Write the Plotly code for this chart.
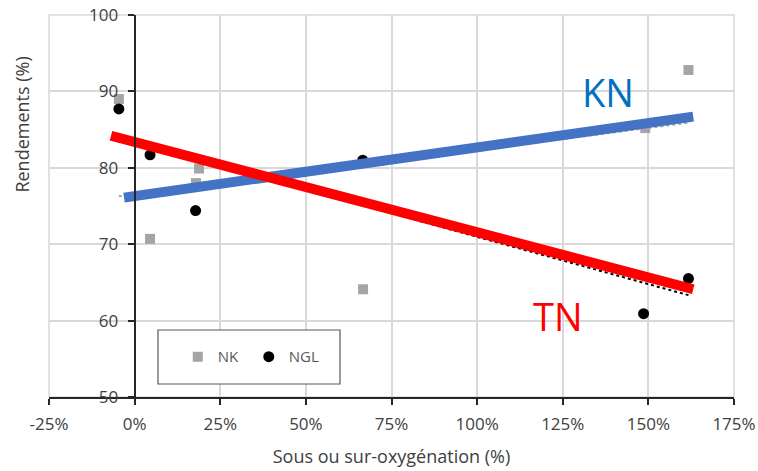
import numpy as np
import plotly.graph_objects as go

# ---- data ----
nk_x = [-4.6, 4.5, 17.9, 18.8, 66.7, 149.1, 161.7]
nk_y = [89.0, 70.7, 78.0, 79.9, 64.1, 85.2, 92.8]

ngl_x = [-4.6, 4.5, 17.8, 66.6, 148.6, 161.7]
ngl_y = [87.7, 81.7, 74.4, 81.0, 60.9, 65.5]

# hand-drawn highlight lines (endpoints, data units)
kn_line_x = [-3.1, 163.1]
kn_line_y = [76.1, 86.7]
tn_line_x = [-6.9, 163.1]
tn_line_y = [84.2, 64.1]

x_ticks = [-25, 0, 25, 50, 75, 100, 125, 150, 175]
x_tick_labels = ["-25%", "0%", "25%", "50%", "75%", "100%", "125%", "150%", "175%"]
y_ticks = [50, 60, 70, 80, 90, 100]

FONT = "Open Sans"
TICK_COL = "#404040"
GRID = "#d9d9d9"


def trend(xs, ys):
    a, b = np.polyfit(xs, ys, 1)
    xx = np.array([min(xs), max(xs)])
    return xx, a * xx + b


fig = go.Figure()

fig.add_trace(go.Scatter(x=nk_x, y=nk_y, mode="markers", name="NK",
                         marker=dict(symbol="square", size=10, color="#a5a5a5")))
fig.add_trace(go.Scatter(x=ngl_x, y=ngl_y, mode="markers", name="NGL",
                         marker=dict(symbol="circle", size=11, color="#000000")))

tx, ty = trend(nk_x, nk_y)
fig.add_trace(go.Scatter(x=tx, y=ty, mode="lines", showlegend=False,
                         line=dict(color="#a5a5a5", width=2, dash="dot")))
tx, ty = trend(ngl_x, ngl_y)
fig.add_trace(go.Scatter(x=tx, y=ty, mode="lines", showlegend=False,
                         line=dict(color="#000000", width=2, dash="dot")))

fig.add_trace(go.Scatter(x=kn_line_x, y=kn_line_y, mode="lines", showlegend=False,
                         line=dict(color="#4472c4", width=10)))
fig.add_trace(go.Scatter(x=tn_line_x, y=tn_line_y, mode="lines", showlegend=False,
                         line=dict(color="#ff0000", width=10)))

fig.add_annotation(x=138.3, y=89.9, text="KN", showarrow=False,
                   font=dict(family=FONT, size=38, color="#0070c0"))
fig.add_annotation(x=123.7, y=60.6, text="TN", showarrow=False,
                   font=dict(family=FONT, size=38, color="#ff0000"))

# y-axis title (placed high, as in the reference)
fig.add_annotation(xref="paper", yref="paper", x=-0.04, y=0.712, text="Rendements (%)",
                   textangle=-90, showarrow=False, xanchor="center", yanchor="middle",
                   font=dict(family=FONT, size=18, color=TICK_COL))

# light border around plot area (grid at range edges)
fig.add_shape(type="rect", xref="paper", yref="paper", x0=0, x1=1, y0=0, y1=1,
              line=dict(color=GRID, width=1.5), layer="below")

# legend box
fig.add_shape(type="rect", xref="paper", yref="paper",
              x0=(158 - 49) / 685, x1=(340 - 49) / 685,
              y0=(397 - 384) / 382, y1=(397 - 330) / 382,
              line=dict(color="#595959", width=1.2), fillcolor="white", layer="above")

fig.update_layout(
    width=758, height=471,
    margin=dict(l=49, r=24, t=15, b=74, autoexpand=False),
    paper_bgcolor="white", plot_bgcolor="white",
    font=dict(family=FONT, color=TICK_COL),
    showlegend=True,
    legend=dict(orientation="h", x=0.188, y=0.105, xanchor="left", yanchor="middle",
                bgcolor="rgba(255,255,255,0)", font=dict(size=15, color="#595959"),
                itemwidth=30, entrywidth=26, entrywidthmode="pixels"),
    xaxis=dict(range=[-25, 175], tickvals=x_ticks, ticktext=x_tick_labels,
               automargin=False, ticklabeloverflow="allow",
               showgrid=True, gridcolor=GRID, gridwidth=1.5, zeroline=False,
               showline=True, linecolor="#262626", linewidth=2,
               ticks="outside", ticklen=6, tickcolor="#262626", tickwidth=2,
               ticklabelstandoff=5,
               tickfont=dict(size=17, color=TICK_COL),
               title=dict(text="Sous ou sur-oxygénation (%)", standoff=16,
                          font=dict(size=18, color=TICK_COL))),
    yaxis=dict(range=[50, 100], tickvals=y_ticks, anchor="free", position=0.125,
               automargin=False, ticklabeloverflow="allow",
               showgrid=True, gridcolor=GRID, gridwidth=1.5, zeroline=False,
               showline=True, linecolor="#262626", linewidth=2,
               ticks="outside", ticklen=6, tickcolor="#262626", tickwidth=2,
               ticklabelstandoff=6,
               tickfont=dict(size=17, color=TICK_COL)),
)

# remove the page's default 8px body margin so the figure fills the window
fig.write_html("out.html",
               config={"displayModeBar": False},
               post_script="document.body.style.margin='0';document.body.style.overflow='hidden';")
